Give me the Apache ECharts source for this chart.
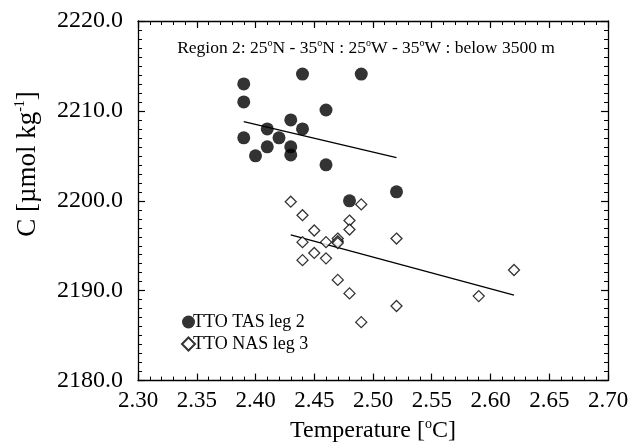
<!DOCTYPE html>
<html>
<head>
<meta charset="utf-8">
<script src="https://cdn.jsdelivr.net/npm/echarts@6/dist/echarts.min.js"></script>
<style>
  html, body { margin: 0; padding: 0; background: #fff; }
  #chart { width: 635px; height: 448px; }
</style>
</head>
<body>
<div id="chart"></div>
<script>
// TTO TAS leg 2 (filled circles)
const tasTemp = [2.39, 2.39, 2.39, 2.44, 2.49, 2.46, 2.43, 2.41, 2.44, 2.42, 2.41, 2.43, 2.40, 2.43, 2.46, 2.48, 2.52]
const tasC = [2213.0, 2211.0, 2207.0, 2214.1, 2214.1, 2210.1, 2209.0, 2208.0, 2208.0, 2207.0, 2206.0, 2206.0, 2205.0, 2205.1, 2204.0, 2200.0, 2201.0]

// TTO NAS leg 3 (open diamonds)
const nasTemp = [2.43, 2.44, 2.45, 2.48, 2.48, 2.49, 2.44, 2.46, 2.47, 2.47, 2.47, 2.45, 2.44, 2.46, 2.47, 2.48, 2.49, 2.52, 2.52, 2.59, 2.62]
const nasC = [2199.9, 2198.4, 2196.7, 2197.8, 2196.8, 2199.6, 2195.4, 2195.4, 2195.8, 2195.5, 2195.3, 2194.2, 2193.4, 2193.6, 2191.2, 2189.7, 2186.5, 2195.8, 2188.3, 2189.4, 2192.3]

// fitted lines (end points)
const tasFitT = [2.39, 2.52]
const tasFitC = [2208.8, 2204.8]
const nasFitT = [2.43, 2.62]
const nasFitC = [2196.2, 2189.5]

// axes
const xTicks = { min: 2.30, max: 2.70, step: 0.05 }
const yTicks = { min: 2180, max: 2220, step: 10 }

const zip = (a, b) => a.map((v, i) => [v, b[i]])
const serif = '"Liberation Serif", "Times New Roman", serif'

const chart = echarts.init(document.getElementById('chart'))

function axisBase(extra) {
  return Object.assign({
    type: 'value',
    axisLine: { show: true, lineStyle: { color: '#000', width: 1.3 } },
    axisTick: { show: true, inside: true, length: 7, lineStyle: { color: '#000', width: 1.2 } },
    splitLine: { show: false }
  }, extra)
}

const xMinor = { show: true, splitNumber: 5, length: 4, lineStyle: { color: '#000', width: 1 } }
const yMinor = { show: true, splitNumber: 10, length: 4, lineStyle: { color: '#000', width: 1 } }

chart.setOption({
  animation: false,
  textStyle: { fontFamily: serif, color: '#000' },
  grid: { left: 138, right: 27, top: 21, bottom: 63 },
  xAxis: [
    axisBase({
      position: 'bottom',
      min: xTicks.min, max: xTicks.max, interval: xTicks.step,
      minorTick: xMinor,
      axisLabel: {
        margin: 9, color: '#000', fontFamily: serif, fontSize: 23,
        formatter: v => v.toFixed(2)
      },
      name: '{n|Temperature [}{sup|o}{n|C]}',
      nameLocation: 'middle',
      nameGap: 35,
      nameTextStyle: {
        rich: {
          n: { fontFamily: serif, fontSize: 24, color: '#000', lineHeight: 27 },
          sup: { fontFamily: serif, fontSize: 14, color: '#000', lineHeight: 15, verticalAlign: 'top' }
        }
      }
    }),
    axisBase({
      position: 'top',
      min: xTicks.min, max: xTicks.max, interval: xTicks.step,
      minorTick: xMinor,
      axisLabel: { show: false }
    })
  ],
  yAxis: [
    axisBase({
      position: 'left',
      min: yTicks.min, max: yTicks.max, interval: yTicks.step,
      minorTick: yMinor,
      axisLabel: {
        margin: 15, color: '#000', fontFamily: serif, fontSize: 24,
        formatter: v => v.toFixed(1)
      }
    }),
    axisBase({
      position: 'right',
      min: yTicks.min, max: yTicks.max, interval: yTicks.step,
      minorTick: yMinor,
      axisLabel: { show: false }
    })
  ],
  legend: {
    orient: 'vertical',
    left: 181,
    top: 313,
    padding: 0,
    itemWidth: 13,
    itemHeight: 13,
    itemGap: 4,
    textStyle: { fontFamily: serif, fontSize: 18, color: '#000', padding: [0, 0, 0, -7] },
    data: [
      { name: 'TTO TAS leg 2', icon: 'circle' },
      { name: 'TTO NAS leg 3', icon: 'diamond' }
    ]
  },
  graphic: [
    {
      type: 'text',
      x: 366, y: 48,
      style: {
        text: '{n|Region 2: 25}{s|o}{n|N - 35}{s|o}{n|N : 25}{s|o}{n|W - 35}{s|o}{n|W : below 3500 m}',
        align: 'center', verticalAlign: 'middle',
        rich: {
          n: { fontFamily: serif, fontSize: 17.5, fill: '#000', lineHeight: 20 },
          s: { fontFamily: serif, fontSize: 10, fill: '#000', lineHeight: 11, verticalAlign: 'top' }
        }
      }
    },
    {
      type: 'text',
      x: 28, y: 164,
      rotation: Math.PI / 2,
      style: {
        text: '{n|C [µmol kg}{s|-1}{n|]}',
        align: 'center', verticalAlign: 'middle',
        rich: {
          n: { fontFamily: serif, fontSize: 27, fill: '#000', lineHeight: 30 },
          s: { fontFamily: serif, fontSize: 14, fill: '#000', lineHeight: 15, verticalAlign: 'top' }
        }
      }
    }
  ],
  series: [
    {
      name: 'TTO TAS leg 2',
      type: 'scatter',
      symbol: 'circle',
      symbolSize: 13,
      itemStyle: { color: '#000' },
      data: zip(tasTemp, tasC),
      z: 3
    },
    {
      name: 'TTO NAS leg 3',
      type: 'scatter',
      symbol: 'diamond',
      symbolSize: 11,
      itemStyle: { color: '#fff', borderColor: '#000', borderWidth: 1.3 },
      data: zip(nasTemp, nasC),
      z: 4
    },
    {
      name: 'fit TAS',
      type: 'line',
      symbol: 'none',
      lineStyle: { color: '#000', width: 1.3 },
      data: zip(tasFitT, tasFitC),
      z: 2
    },
    {
      name: 'fit NAS',
      type: 'line',
      symbol: 'none',
      lineStyle: { color: '#000', width: 1.3 },
      data: zip(nasFitT, nasFitC),
      z: 2
    }
  ]
})
</script>
</body>
</html>
